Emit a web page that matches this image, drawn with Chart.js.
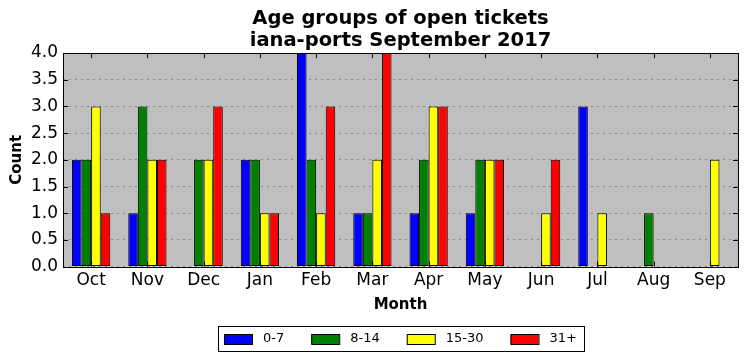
<!DOCTYPE html>
<html>
<head>
<meta charset="utf-8">
<script src="https://cdn.jsdelivr.net/npm/chart.js@4/dist/chart.umd.min.js"></script>
<style>
  html, body { margin: 0; padding: 0; background: #fff; }
  #wrap { width: 746px; height: 361px; }
</style>
</head>
<body>
<div id="wrap"><canvas id="myChart" width="746" height="361"></canvas></div>
<script>
// data
const months = ["Oct", "Nov", "Dec", "Jan", "Feb", "Mar", "Apr", "May", "Jun", "Jul", "Aug", "Sep"];
const age0to7 = [2, 1, 0, 2, 4, 1, 1, 1, 0, 3, 0, 0];
const age8to14 = [2, 3, 2, 2, 2, 1, 2, 2, 0, 0, 1, 0];
const age15to30 = [3, 2, 2, 1, 1, 2, 3, 2, 1, 1, 0, 2];
const age31plus = [1, 2, 3, 1, 3, 4, 3, 2, 2, 0, 0, 0];
const yTicks = [0, 0.5, 1, 1.5, 2, 2.5, 3, 3.5, 4];
const titleLines = ["Age groups of open tickets", "iana-ports September 2017"];

const FONT = "'DejaVu Sans', sans-serif";

// gray plot area, black frame and inward ticks (matplotlib style)
const frame = {
  id: "frame",
  beforeDraw(chart) {
    const { ctx, chartArea: a } = chart;
    ctx.save();
    ctx.fillStyle = "#bfbfbf";
    ctx.fillRect(a.left, a.top, a.right - a.left, a.bottom - a.top);
    ctx.restore();
  },
  afterDraw(chart) {
    const { ctx, chartArea: a } = chart;
    const x = chart.scales.x, y = chart.scales.y;
    ctx.save();
    ctx.strokeStyle = "#000";
    ctx.lineWidth = 1;
    ctx.beginPath();
    for (let i = 0; i < months.length; i++) {
      const px = Math.round(x.getPixelForValue(i)) + 0.5;
      ctx.moveTo(px, a.bottom); ctx.lineTo(px, a.bottom - 5);
      ctx.moveTo(px, a.top); ctx.lineTo(px, a.top + 5);
    }
    yTicks.forEach((v) => {
      const py = Math.round(y.getPixelForValue(v)) + 0.5;
      ctx.moveTo(a.left, py); ctx.lineTo(a.left + 5, py);
      ctx.moveTo(a.right, py); ctx.lineTo(a.right - 5, py);
    });
    ctx.stroke();
    ctx.strokeRect(Math.round(a.left) + 0.5, Math.round(a.top) + 0.5,
      Math.round(a.right - a.left), Math.round(a.bottom - a.top));

    // title centred over the plot area
    ctx.fillStyle = "#000";
    ctx.font = "bold 19.5px " + FONT;
    ctx.textAlign = "center";
    ctx.textBaseline = "middle";
    const mid = (a.left + a.right) / 2;
    ctx.fillText(titleLines[0], mid, 19);
    ctx.fillText(titleLines[1], mid, 41);
    ctx.restore();
  }
};

// framed legend under the axis title, like matplotlib's
const boxLegend = {
  id: "boxLegend",
  afterDraw(chart) {
    const { ctx, chartArea: a } = chart;
    const sets = chart.data.datasets;
    ctx.save();
    ctx.font = "13px " + FONT;
    const widths = sets.map((ds) => ctx.measureText(ds.label).width);
    const boxW = 28, boxH = 10, textGap = 11, itemGap = 27, padL = 6, padR = 7;
    let total = padL + padR + itemGap * (sets.length - 1);
    widths.forEach((w) => (total += boxW + textGap + w));
    const left = Math.round((a.left + a.right) / 2 - total / 2);
    const top = chart.height - 35;
    const h = 25;
    ctx.strokeStyle = "#000";
    ctx.lineWidth = 1;
    ctx.fillStyle = "#fff";
    ctx.fillRect(left, top, total, h);
    ctx.strokeRect(left + 0.5, top + 0.5, Math.round(total), h);
    let cx = left + padL;
    const cy = top + h / 2 + 0.5;
    sets.forEach((ds, i) => {
      ctx.fillStyle = ds.backgroundColor;
      ctx.fillRect(cx, Math.round(cy - boxH / 2), boxW, boxH);
      ctx.strokeRect(cx + 0.5, Math.round(cy - boxH / 2) + 0.5, boxW, boxH);
      ctx.fillStyle = "#000";
      ctx.textBaseline = "middle";
      ctx.fillText(ds.label, cx + boxW + textGap, cy);
      cx += boxW + textGap + widths[i] + itemGap;
    });
    ctx.restore();
  }
};

function series(label, data, color) {
  return {
    label: label,
    data: data,
    backgroundColor: color,
    borderColor: "#000",
    borderWidth: 1,
    borderSkipped: false
  };
}

new Chart(document.getElementById("myChart"), {
  type: "bar",
  data: {
    labels: months,
    datasets: [
      series("0-7", age0to7, "#0000ff"),
      series("8-14", age8to14, "#008000"),
      series("15-30", age15to30, "#ffff00"),
      series("31+", age31plus, "#ff0000")
    ]
  },
  options: {
    responsive: false,
    animation: false,
    categoryPercentage: 0.68,
    barPercentage: 1.0,
    layout: { padding: { left: 8, right: 8, top: 53, bottom: 47 } },
    plugins: {
      title: { display: false },
      legend: { display: false },
      tooltip: { enabled: false }
    },
    scales: {
      x: {
        grid: { display: false, drawTicks: false },
        border: { display: false },
        ticks: { color: "#000", font: { family: FONT, size: 17 }, padding: 4 },
        title: {
          display: true, text: "Month", color: "#000",
          font: { family: FONT, size: 15, weight: "bold" }, padding: { top: 1, bottom: 0 }
        }
      },
      y: {
        min: 0,
        max: 4,
        grid: { color: "#888", drawTicks: false, tickLength: 0 },
        border: { display: false, dash: [2, 4] },
        afterBuildTicks(scale) { scale.ticks = yTicks.map((v) => ({ value: v })); },
        ticks: {
          color: "#000",
          font: { family: FONT, size: 17 },
          padding: 5,
          callback: (v) => Number(v).toFixed(1)
        },
        title: {
          display: true, text: "Count", color: "#000",
          font: { family: FONT, size: 15, weight: "bold" }, padding: { top: 0, bottom: 0 }
        }
      }
    }
  },
  plugins: [frame, boxLegend]
});
</script>
</body>
</html>
